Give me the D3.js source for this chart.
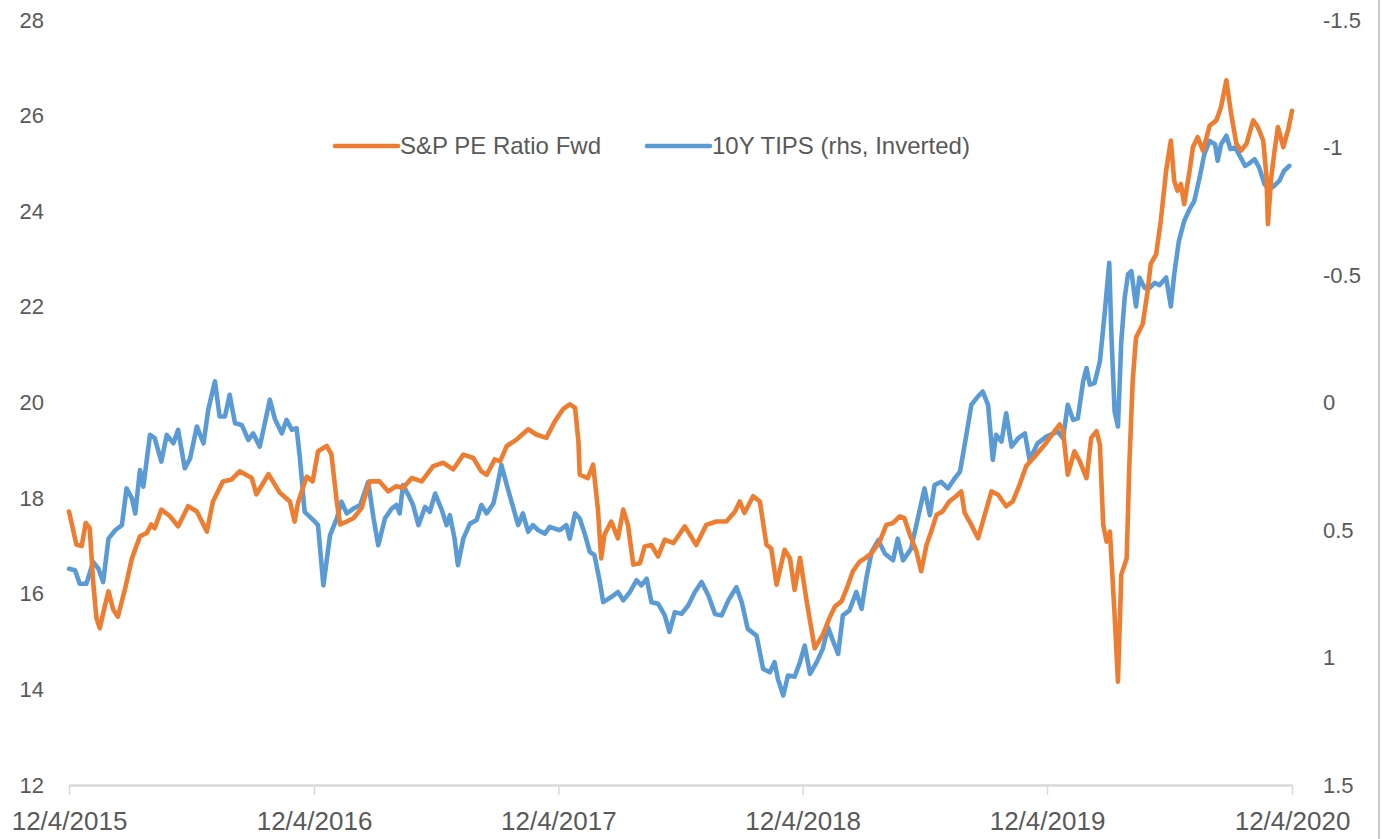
<!DOCTYPE html>
<html>
<head>
<meta charset="utf-8">
<script src="https://cdnjs.cloudflare.com/ajax/libs/d3/7.8.5/d3.min.js"></script>
<style>
  body { margin: 0; background: #fff; }
  svg { display: block; }
  text { font-family: "Liberation Sans", Arial, sans-serif; fill: #595959; }
</style>
</head>
<body>
<div id="chart"></div>
<script>
// day offsets from 12/4/2015 and values
var startDate = new Date(2015, 11, 4);

var peDays = [0, 11, 19, 25, 31, 36, 41, 46, 54, 59, 66, 73, 84, 94, 106, 116, 123, 128, 138, 151,
  163, 178, 191, 206, 215, 230, 243, 255, 273, 280, 298, 315, 330, 337, 342, 355, 364, 372, 385, 392,
  400, 405, 415, 425, 437, 449, 464, 477, 489, 499, 512, 527, 544, 559, 574, 589, 604, 616, 624, 636,
  644, 654, 669, 686, 698, 713, 726, 738, 748, 756, 761, 763, 775, 783, 790, 795, 800, 810, 820, 828,
  835, 843, 853, 860, 870, 880, 890, 903, 920, 937, 952, 967, 982, 995, 1002, 1009, 1022, 1032, 1042, 1049,
  1057, 1069, 1077, 1084, 1092, 1102, 1114, 1126, 1136, 1144, 1154, 1161, 1171, 1181, 1189, 1199, 1211, 1221, 1231, 1241,
  1248, 1256, 1266, 1273, 1281, 1288, 1296, 1305, 1315, 1325, 1333, 1338, 1348, 1358, 1368, 1378, 1388, 1400, 1410, 1420,
  1430, 1445, 1460, 1465, 1480, 1485, 1492, 1502, 1510, 1520, 1527, 1535, 1540, 1545, 1550, 1555, 1562, 1567, 1572, 1580,
  1584, 1589, 1594, 1604, 1611, 1616, 1624, 1631, 1639, 1646, 1651, 1656, 1661, 1666, 1674, 1679, 1686, 1694, 1704, 1714,
  1721, 1729, 1736, 1744, 1751, 1759, 1769, 1776, 1784, 1789, 1791, 1796, 1801, 1806, 1814, 1821, 1827];
var peValues = [17.72, 17.03, 17.0, 17.48, 17.37, 16.26, 15.49, 15.28, 15.77, 16.05, 15.67, 15.52, 16.12, 16.74, 17.2, 17.27, 17.45, 17.37, 17.76, 17.62,
  17.41, 17.83, 17.72, 17.3, 17.93, 18.35, 18.39, 18.56, 18.42, 18.08, 18.5, 18.11, 17.93, 17.51, 17.9, 18.45, 18.35, 18.98, 19.09, 18.92,
  17.93, 17.45, 17.51, 17.58, 17.79, 18.35, 18.35, 18.14, 18.25, 18.21, 18.42, 18.35, 18.67, 18.74, 18.6, 18.91, 18.84, 18.56, 18.49, 18.81,
  18.77, 19.09, 19.23, 19.44, 19.33, 19.26, 19.61, 19.86, 19.96, 19.89, 19.19, 18.49, 18.42, 18.7, 17.79, 16.74, 17.24, 17.51, 17.16, 17.76,
  17.44, 16.61, 16.64, 16.99, 17.02, 16.78, 17.13, 17.06, 17.41, 17.02, 17.44, 17.51, 17.51, 17.72, 17.93, 17.69, 18.04, 17.93, 17.02, 16.95,
  16.19, 16.92, 16.74, 16.08, 16.75, 15.84, 14.86, 15.14, 15.49, 15.73, 15.84, 16.08, 16.47, 16.67, 16.74, 16.85, 17.09, 17.44, 17.48, 17.62,
  17.58, 17.24, 16.88, 16.47, 17.02, 17.3, 17.65, 17.72, 17.93, 18.04, 18.14, 17.69, 17.44, 17.16, 17.65, 18.14, 18.07, 17.83, 17.93, 18.28,
  18.67, 18.91, 19.16, 19.26, 19.54, 19.4, 18.49, 18.98, 18.77, 18.42, 19.26, 19.4, 19.12, 17.44, 17.09, 17.3, 15.56, 14.16, 16.4, 16.74,
  18.7, 20.45, 21.36, 21.64, 22.3, 22.9, 23.1, 23.8, 24.85, 25.48, 24.64, 24.43, 24.57, 24.15, 24.85, 25.34, 25.55, 25.27, 25.79, 25.9,
  26.18, 26.74, 26.04, 25.41, 25.27, 25.41, 25.9, 25.76, 25.48, 24.71, 23.73, 24.71, 25.27, 25.76, 25.34, 25.69, 26.1];

var tipsDays = [0, 9, 16, 26, 36, 44, 51, 59, 69, 79, 86, 94, 99, 106, 111, 121, 128, 138, 146, 156,
  163, 173, 181, 191, 201, 208, 218, 225, 233, 240, 248, 258, 268, 275, 285, 300, 308, 318, 325, 333,
  340, 345, 352, 365, 372, 380, 390, 400, 407, 415, 425, 435, 447, 455, 462, 472, 482, 489, 494, 499,
  507, 514, 522, 532, 539, 547, 557, 564, 569, 576, 581, 589, 599, 609, 616, 624, 634, 639, 646, 654,
  664, 671, 678, 686, 693, 701, 711, 718, 733, 743, 748, 756, 763, 771, 778, 785, 793, 798, 810, 820,
  828, 838, 848, 855, 863, 870, 880, 890, 897, 905, 915, 925, 935, 945, 955, 965, 975, 985, 997, 1005,
  1014, 1027, 1037, 1047, 1054, 1059, 1067, 1074, 1084, 1092, 1099, 1107, 1117, 1126, 1134, 1141, 1149, 1156, 1166, 1176,
  1184, 1191, 1199, 1209, 1219, 1231, 1238, 1246, 1258, 1268, 1278, 1286, 1293, 1303, 1313, 1323, 1331, 1338, 1348, 1358,
  1365, 1373, 1380, 1385, 1393, 1400, 1408, 1418, 1428, 1435, 1447, 1460, 1477, 1485, 1492, 1500, 1507, 1515, 1520, 1525,
  1532, 1540, 1547, 1554, 1557, 1562, 1567, 1572, 1577, 1582, 1587, 1594, 1599, 1607, 1614, 1622, 1629, 1639, 1646, 1651,
  1658, 1666, 1674, 1681, 1689, 1696, 1704, 1712, 1716, 1721, 1729, 1735, 1742, 1749, 1757, 1762, 1771, 1778, 1786, 1793,
  1800, 1808, 1815, 1823];
var tipsValues = [0.652, 0.658, 0.711, 0.711, 0.625, 0.652, 0.704, 0.534, 0.501, 0.481, 0.337, 0.376, 0.435, 0.265, 0.33, 0.127, 0.14, 0.232, 0.127, 0.16,
  0.107, 0.258, 0.219, 0.094, 0.16, 0.029, -0.083, 0.055, 0.055, -0.03, 0.081, 0.088, 0.147, 0.121, 0.173, -0.011, 0.068, 0.121, 0.068, 0.107,
  0.101, 0.219, 0.429, 0.461, 0.481, 0.717, 0.52, 0.455, 0.389, 0.435, 0.416, 0.402, 0.311, 0.455, 0.56, 0.455, 0.416, 0.402, 0.435, 0.324,
  0.363, 0.402, 0.481, 0.409, 0.429, 0.357, 0.422, 0.481, 0.442, 0.534, 0.638, 0.534, 0.475, 0.461, 0.402, 0.435, 0.396, 0.337, 0.245, 0.324,
  0.416, 0.481, 0.435, 0.507, 0.481, 0.501, 0.514, 0.488, 0.501, 0.481, 0.534, 0.435, 0.455, 0.52, 0.586, 0.599, 0.704, 0.783, 0.763, 0.743,
  0.776, 0.743, 0.697, 0.717, 0.691, 0.783, 0.789, 0.835, 0.9, 0.822, 0.829, 0.796, 0.743, 0.704, 0.756, 0.829, 0.835, 0.776, 0.724, 0.783,
  0.888, 0.914, 1.045, 1.058, 1.018, 1.084, 1.149, 1.071, 1.075, 1.018, 0.953, 1.064, 1.018, 0.966, 0.881, 0.933, 0.986, 0.835, 0.815, 0.743,
  0.809, 0.691, 0.586, 0.54, 0.593, 0.619, 0.534, 0.619, 0.573, 0.455, 0.337, 0.442, 0.324, 0.311, 0.337, 0.298, 0.271, 0.166, 0.009, -0.024,
  -0.043, 0.009, 0.225, 0.127, 0.153, 0.042, 0.173, 0.14, 0.121, 0.225, 0.16, 0.134, 0.114, 0.14, 0.009, 0.068, 0.062, -0.083, -0.135, -0.07,
  -0.076, -0.161, -0.345, -0.548, -0.279, 0.035, 0.094, -0.24, -0.41, -0.502, -0.515, -0.377, -0.49, -0.449, -0.449, -0.469, -0.46, -0.49, -0.377, -0.502,
  -0.633, -0.712, -0.758, -0.79, -0.882, -0.974, -1.026, -1.013, -0.948, -1.013, -1.046, -0.994, -1.0, -0.967, -0.928, -0.935, -0.954, -0.921, -0.856, -0.836,
  -0.849, -0.869, -0.908, -0.928];

var leftTicks = [12, 14, 16, 18, 20, 22, 24, 26, 28];
var rightTicks = [1.5, 1, 0.5, 0, -0.5, -1, -1.5];
var xTickDates = ["12/4/2015", "12/4/2016", "12/4/2017", "12/4/2018", "12/4/2019", "12/4/2020"];
var seriesNames = ["S&P PE Ratio Fwd", "10Y TIPS (rhs, Inverted)"];
var colors = ["#ED7D31", "#5B9BD5"];

var W = 1383, H = 839;
// plot box (don't call it "top", that's window.top)
var box = { l: 69, r: 1292, t: 20, b: 785 };

var svg = d3.select("#chart").append("svg").attr("width", W).attr("height", H);

var parse = d3.timeParse("%m/%d/%Y");
var x = d3.scaleTime()
  .domain([parse(xTickDates[0]), parse(xTickDates[xTickDates.length - 1])])
  .range([box.l, box.r]);
var yL = d3.scaleLinear().domain([12, 28]).range([box.b, box.t]);
var yR = d3.scaleLinear().domain([1.5, -1.5]).range([box.b, box.t]);

// right frame edge
svg.append("line").attr("x1", 1379).attr("x2", 1379).attr("y1", 0).attr("y2", H)
  .attr("stroke", "#c8c8c8").attr("stroke-width", 2);

// x axis
var xAxis = d3.axisBottom(x)
  .tickValues(xTickDates.map(parse))
  .tickFormat(function(d) { return (d.getMonth() + 1) + "/" + d.getDate() + "/" + d.getFullYear(); })
  .tickSizeInner(10).tickSizeOuter(0).tickPadding(17);
var gx = svg.append("g").attr("transform", "translate(0," + box.b + ")").call(xAxis);
gx.select(".domain").attr("stroke", "#d9d9d9").attr("stroke-width", 2.5);
gx.selectAll(".tick line").attr("stroke", "#d9d9d9").attr("stroke-width", 1.5);
gx.selectAll("text").attr("font-size", 26).attr("font-family", null).attr("fill", "#595959");

// left axis
var gl = svg.append("g").attr("transform", "translate(44,0)")
  .call(d3.axisLeft(yL).tickValues(leftTicks).tickSize(0).tickPadding(0));
gl.select(".domain").remove();
gl.selectAll("text").attr("font-size", 22).attr("font-family", null).attr("fill", "#595959");

// right axis
var gr = svg.append("g").attr("transform", "translate(1323,0)")
  .call(d3.axisRight(yR).tickValues(rightTicks).tickSize(0).tickPadding(0)
    .tickFormat(function(d) { return String(d); }));
gr.select(".domain").remove();
gr.selectAll("text").attr("font-size", 22).attr("font-family", null).attr("fill", "#595959");

function day(d) { return d3.timeDay.offset(startDate, d); }

var lineL = d3.line().x(function(d) { return x(day(d[0])); }).y(function(d) { return yL(d[1]); });
var lineR = d3.line().x(function(d) { return x(day(d[0])); }).y(function(d) { return yR(d[1]); });

svg.append("path").datum(d3.zip(tipsDays, tipsValues))
  .attr("d", lineR).attr("fill", "none").attr("stroke", colors[1])
  .attr("stroke-width", 4.6).attr("stroke-linejoin", "round").attr("stroke-linecap", "round");
svg.append("path").datum(d3.zip(peDays, peValues))
  .attr("d", lineL).attr("fill", "none").attr("stroke", colors[0])
  .attr("stroke-width", 4.6).attr("stroke-linejoin", "round").attr("stroke-linecap", "round");

// legend
var legendX = [335, 647];
var legend = svg.append("g");
seriesNames.forEach(function(name, i) {
  legend.append("line").attr("x1", legendX[i]).attr("x2", legendX[i] + 63)
    .attr("y1", 146).attr("y2", 146).attr("stroke", colors[i]).attr("stroke-width", 4.6)
    .attr("stroke-linecap", "round");
  legend.append("text").attr("x", legendX[i] + 65).attr("y", 146)
    .attr("dy", "0.35em").attr("font-size", 24).text(name);
});
</script>
</body>
</html>
